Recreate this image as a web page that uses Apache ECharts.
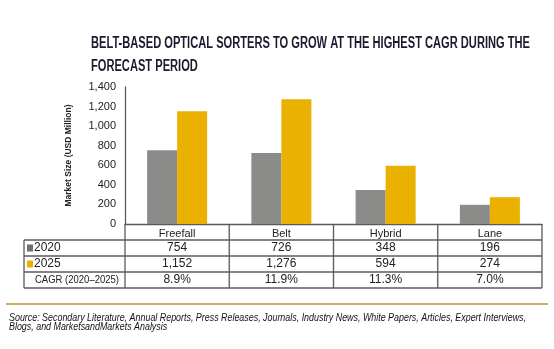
<!DOCTYPE html>
<html><head><meta charset="utf-8">
<script src="https://cdn.jsdelivr.net/npm/echarts@6/dist/echarts.min.js"></script>
<style>html,body{margin:0;padding:0;background:#fff}#c{width:554px;height:349px}</style>
</head><body><div id="c"></div>
<script>
// ---- data ----
const categories = ['Freefall', 'Belt', 'Hybrid', 'Lane'];
const seriesNames = ['2020', '2025'];
const values2020 = [754, 726, 348, 196];
const values2025 = [1152, 1276, 594, 274];
const cagrValues = ['8.9%', '11.9%', '11.3%', '7.0%'];
const cagrLabel = 'CAGR (2020–2025)';
const yMin = 0, yMax = 1400, yInterval = 200;
const yAxisName = 'Market Size (USD Million)';
const titleLines = ['BELT-BASED OPTICAL SORTERS TO GROW AT THE HIGHEST CAGR DURING THE', 'FORECAST PERIOD'];
const sourceLines = ['Source: Secondary Literature, Annual Reports, Press Releases, Journals, Industry News, White Papers, Articles, Expert Interviews,',
                     'Blogs, and MarketsandMarkets Analysis'];

// ---- styles / layout ----
const W = 554, H = 349;
const GRID = { left: 125, right: 12, top: 87, bottom: 125 };
const GRAY = '#8b8c89', YELLOW = '#ebb100', GRAY_KEY = '#6f6f6f';
const LINE = '#5a5a5a';
const ROW_H = 16;
const TABLE_LEFT = 24;

function measure(text, font) {
  const c = document.createElement('canvas').getContext('2d');
  c.font = font; return c.measureText(text).width;
}

const chart = echarts.init(document.getElementById('c'), null, { renderer: 'canvas' });

const plotLeft = GRID.left, plotRight = W - GRID.right;
const axisY = H - GRID.bottom;
const colW = (plotRight - plotLeft) / categories.length;
const rowTops = [axisY, axisY + ROW_H, axisY + 2 * ROW_H, axisY + 3 * ROW_H, axisY + 4 * ROW_H];

const graphics = [];
// Title
const titleFont = 'bold 16px "Liberation Sans"';
const titleScale = 439 / measure(titleLines[0], titleFont);
titleLines.forEach((t, i) => {
  graphics.push({ type: 'text', x: 91, y: 44 + i * 23, scaleX: titleScale,
    style: { text: t, font: titleFont, fill: '#1b1b2f', verticalAlign: 'middle' } });
});
// Table lines
const hLine = (x1, x2, y) => graphics.push({ type: 'line', shape: { x1, y1: y, x2, y2: y }, style: { stroke: LINE, lineWidth: 1.3 } });
const vLine = (x, y1, y2) => graphics.push({ type: 'line', shape: { x1: x, y1, x2: x, y2 }, style: { stroke: LINE, lineWidth: 1.3 } });
for (let r = 1; r < rowTops.length; r++) hLine(TABLE_LEFT, plotRight, rowTops[r]);
vLine(TABLE_LEFT, rowTops[1], rowTops[4]);
for (let c = 0; c <= categories.length; c++) vLine(plotLeft + c * colW, rowTops[0], rowTops[4]);
// Row labels
const keyColors = [GRAY_KEY, YELLOW];
seriesNames.forEach((n, i) => {
  const cy = rowTops[i + 1] + ROW_H / 2;
  graphics.push({ type: 'rect', shape: { x: 27, y: cy - 3.5, width: 6, height: 7 }, style: { fill: keyColors[i] } });
  graphics.push({ type: 'text', x: 34, y: cy, style: { text: n, font: '12px "Liberation Sans"', fill: '#222', verticalAlign: 'middle' } });
});
const cagrFont = '11px "Liberation Sans"';
const cagrScale = Math.min(1, 84 / measure(cagrLabel, cagrFont));
graphics.push({ type: 'text', x: 35, y: rowTops[3] + ROW_H / 2, scaleX: cagrScale,
  style: { text: cagrLabel, font: cagrFont, fill: '#222', verticalAlign: 'middle' } });
// Cell values
const rows = [values2020.map(v => v.toLocaleString('en-US')), values2025.map(v => v.toLocaleString('en-US')), cagrValues];
rows.forEach((row, r) => {
  row.forEach((txt, c) => {
    graphics.push({ type: 'text', x: plotLeft + (c + 0.5) * colW, y: rowTops[r + 1] + ROW_H / 2,
      style: { text: txt, font: '12px "Liberation Sans"', fill: '#222', align: 'center', verticalAlign: 'middle' } });
  });
});
// Separator + source
graphics.push({ type: 'line', shape: { x1: 6, y1: 304, x2: 548, y2: 304 }, style: { stroke: '#b8952f', lineWidth: 1.5 } });
const srcFont = 'italic 10px "Liberation Sans"';
const srcScale = 517 / measure(sourceLines[0], srcFont);
sourceLines.forEach((t, i) => {
  graphics.push({ type: 'text', x: 9, y: 318 + i * 9.5, scaleX: srcScale,
    style: { text: t, font: srcFont, fill: '#111', verticalAlign: 'middle' } });
});

chart.setOption({
  animation: false,
  backgroundColor: '#fff',
  grid: { left: GRID.left, right: GRID.right, top: GRID.top, bottom: GRID.bottom, containLabel: false },
  xAxis: {
    type: 'category', data: categories,
    axisLine: { show: true, lineStyle: { color: LINE, width: 1.3 } },
    axisTick: { show: false },
    axisLabel: { margin: 4, fontSize: 11, color: '#222', fontFamily: 'Liberation Sans' }
  },
  yAxis: {
    type: 'value', min: yMin, max: yMax, interval: yInterval,
    name: yAxisName, nameLocation: 'middle', nameRotate: 90, nameGap: 52,
    nameTextStyle: { fontSize: 8.5, fontWeight: 'bold', color: '#222', fontFamily: 'Liberation Sans' },
    axisLine: { show: true, lineStyle: { color: LINE, width: 1.3 } },
    axisTick: { show: false },
    splitLine: { show: false },
    axisLabel: { margin: 9, fontSize: 11, color: '#222', fontFamily: 'Liberation Sans',
      formatter: v => v.toLocaleString('en-US') }
  },
  series: [
    { name: seriesNames[0], type: 'bar', data: values2020, barWidth: 30, barGap: '0%', itemStyle: { color: GRAY } },
    { name: seriesNames[1], type: 'bar', data: values2025, barWidth: 30, barGap: '0%', itemStyle: { color: YELLOW } }
  ],
  graphic: graphics
});
</script></body></html>
